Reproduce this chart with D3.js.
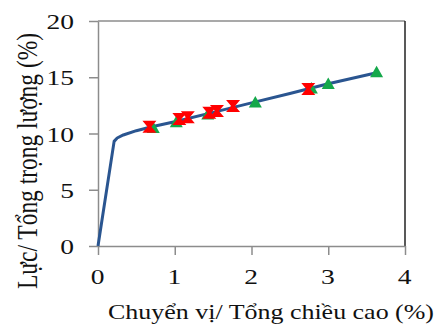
<!DOCTYPE html>
<html>
<head>
<meta charset="utf-8">
<script src="https://cdn.jsdelivr.net/npm/d3@7"></script>
<style>
  html, body { margin: 0; padding: 0; background: #fff; }
  svg { display: block; }
</style>
</head>
<body>
<svg id="chart" width="440" height="330"></svg>
<script>
// Load–displacement envelope (analysis curve)
const curveX = [0, 0.21, 0.25, 0.33, 0.5, 0.7, 1.0, 1.5, 2.0, 2.5, 3.0, 3.63];
const curveY = [0, 9.3, 9.6, 9.87, 10.25, 10.6, 11.05, 11.88, 12.72, 13.55, 14.42, 15.4];

// Test points, series 1 (triangles)
const triX = [0.72, 1.02, 1.43, 2.05, 2.78, 3.0, 3.63];
const triY = [10.5, 11.0, 11.7, 12.75, 14.0, 14.4, 15.45];

// Test points, series 2 (crosses)
const crossX = [0.67, 1.06, 1.17, 1.45, 1.55, 1.76, 2.74];
const crossY = [10.6, 11.3, 11.45, 11.85, 12.0, 12.45, 13.95];

const xTicks = [0, 1, 2, 3, 4];
const yTicks = [0, 5, 10, 15, 20];

const xTitle = "Chuyển vị/ Tổng chiều cao (%)";
const yTitle = "Lực/ Tổng trọng lượng (%)";

const svg = d3.select("#chart");
const plotLeft = 98, plotRight = 405, plotTop = 21, plotBottom = 246;

const x = d3.scaleLinear().domain([0, 4]).range([plotLeft, plotRight]);
const y = d3.scaleLinear().domain([0, 20]).range([plotBottom, plotTop]);

const font = "Liberation Serif, Times New Roman, serif";
const axisGrey = "#8c8c8c";

// frame: top in grey, right in dark
svg.append("line").attr("x1", plotLeft).attr("x2", plotRight).attr("y1", plotTop).attr("y2", plotTop)
  .attr("stroke", axisGrey).attr("stroke-width", 1.5);
svg.append("line").attr("x1", plotRight).attr("x2", plotRight).attr("y1", plotTop).attr("y2", plotBottom)
  .attr("stroke", "#222").attr("stroke-width", 1.5);

// axes
const gx = svg.append("g").attr("transform", `translate(0,${plotBottom})`)
  .call(d3.axisBottom(x).tickValues(xTicks).tickFormat(d3.format("d")).tickSizeInner(9).tickSizeOuter(0).tickPadding(0));
const gy = svg.append("g").attr("transform", `translate(${plotLeft},0)`)
  .call(d3.axisLeft(y).tickValues(yTicks).tickFormat(d3.format("d")).tickSizeInner(9).tickSizeOuter(0).tickPadding(0));

[gx, gy].forEach(g => {
  g.attr("font-family", null).attr("font-size", null);
  g.select(".domain").attr("stroke", axisGrey).attr("stroke-width", 1.5);
  g.selectAll(".tick line").attr("stroke", axisGrey).attr("stroke-width", 1.5);
  g.selectAll(".tick text").attr("fill", "#111").style("font-family", font).style("font-size", "22px");
});
gx.selectAll(".tick text").attr("y", 0).attr("dy", null)
  .attr("text-anchor", "middle")
  .attr("transform", "translate(-1,37.5) scale(1.25,1)");
gy.selectAll(".tick text").attr("x", 0).attr("dy", "0.35em")
  .attr("text-anchor", "end")
  .attr("transform", "translate(-24,0) scale(1.25,1)");

// curve
const pts = curveX.map((v, i) => [v, curveY[i]]);
svg.append("path")
  .datum(pts)
  .attr("d", d3.line().x(d => x(d[0])).y(d => y(d[1])))
  .attr("fill", "none")
  .attr("stroke", "#2a5590")
  .attr("stroke-width", 3)
  .attr("stroke-linejoin", "round");

// triangles
const tri = "M0,-6.5 L6.5,5 L-6.5,5 Z";
svg.append("g").selectAll("path")
  .data(triX.map((v, i) => [v, triY[i]]))
  .join("path")
  .attr("d", tri)
  .attr("transform", d => `translate(${x(d[0])},${y(d[1])})`)
  .attr("fill", "#14a84a");

// crosses (hourglass shape)
const hour = "M-7,-6 L7,-6 L2,0 L7,6 L-7,6 L-2,0 Z";
svg.append("g").selectAll("path")
  .data(crossX.map((v, i) => [v, crossY[i]]))
  .join("path")
  .attr("d", hour)
  .attr("transform", d => `translate(${x(d[0])},${y(d[1])})`)
  .attr("fill", "#ff0000");

// axis titles
svg.append("text")
  .attr("x", 0).attr("y", 0)
  .attr("transform", "translate(271,319)")
  .attr("text-anchor", "middle")
  .attr("textLength", 326).attr("lengthAdjust", "spacingAndGlyphs")
  .style("font-family", font).style("font-size", "22px").attr("fill", "#111")
  .text(xTitle);

svg.append("text")
  .attr("x", 0).attr("y", 0)
  .attr("transform", "translate(37,161) scale(1.3,1) rotate(-90)")
  .attr("text-anchor", "middle")
  .attr("textLength", 256).attr("lengthAdjust", "spacingAndGlyphs")
  .style("font-family", font).style("font-size", "22px").attr("fill", "#111")
  .text(yTitle);
</script>
</body>
</html>
